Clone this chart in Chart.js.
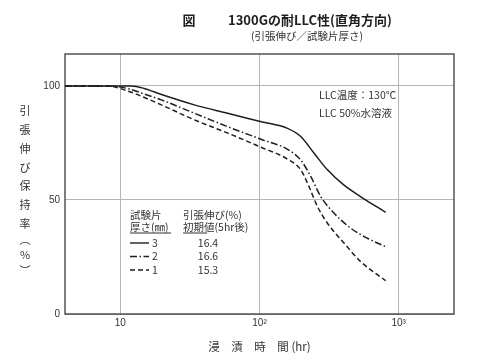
<!DOCTYPE html>
<html>
<head>
<meta charset="utf-8">
<script src="https://cdn.jsdelivr.net/npm/chart.js@4/dist/chart.umd.min.js"></script>
<style>
  html, body { margin: 0; padding: 0; background: #fff; }
</style>
</head>
<body>
<canvas id="chart" width="500" height="359"></canvas>
<script>
// axis ticks
const hourTicks = [10, 100, 1000];
const hourTickLabels = ["10", "10²", "10³"];
const retentionTicks = [0, 50, 100];

// specimen thickness 3 mm (solid)
const hours3 = [4, 12, 15, 20, 34, 59, 103, 159, 198, 246, 308, 403, 535, 807];
const retention3 = [100, 100, 98.8, 96.1, 91.7, 88.0, 84.3, 81.4, 77.8, 70.6, 63.2, 56.6, 51.4, 44.6];

// 2 mm (dash-dot)
const hours2 = [4, 8, 11.4, 14.9, 19.7, 34.1, 59.2, 102.6, 159, 198, 234, 276, 344, 453, 597, 807];
const retention2 = [100, 100, 98.8, 96.4, 93.9, 88.0, 82.1, 76.6, 72.2, 67.5, 60.2, 51.4, 44.2, 37.6, 33.2, 29.5];

// 1 mm (dashed)
const hours1 = [4, 8, 11.4, 14.9, 19.7, 34.1, 59.2, 102.6, 159, 198, 227, 261, 308, 406, 535, 807];
const retention1 = [100, 100, 97.7, 94.9, 91.7, 85.1, 79.3, 73.1, 67.9, 63.2, 55.8, 47.1, 39.8, 31.0, 22.9, 14.6];

// legend table
const thicknessLabels = ["3", "2", "1"];
const initialElongation = ["16.4", "16.6", "15.3"];

const JP = '"Noto Sans CJK JP", "Noto Sans", sans-serif';
const INK = "#1e1e1e";
const dashes = [[], [7, 2.5, 1.5, 2.5], [5, 3]];

function toPoints(xs, ys) {
  return xs.map((x, i) => ({ x: x, y: ys[i] }));
}

function lineSet(xs, ys, dash) {
  return {
    data: toPoints(xs, ys),
    borderColor: INK,
    borderWidth: 1.5,
    borderDash: dash,
    pointRadius: 0,
    fill: false,
    cubicInterpolationMode: "monotone",
  };
}

const decorations = {
  id: "decorations",
  beforeDatasetsDraw(chart) {
    const { ctx, chartArea: a } = chart;
    ctx.save();
    ctx.strokeStyle = "#3a3a3a";
    ctx.lineWidth = 1.3;
    ctx.strokeRect(a.left, a.top, a.right - a.left, a.bottom - a.top);
    ctx.restore();
  },
  afterDraw(chart) {
    const ctx = chart.ctx;
    ctx.save();
    ctx.fillStyle = INK;
    ctx.textBaseline = "middle";

    // title
    ctx.font = "bold 13px " + JP;
    ctx.textAlign = "center";
    ctx.fillText("図", 189, 20);
    ctx.textAlign = "left";
    ctx.fillText("1300Gの耐LLC性(直角方向)", 228, 20);
    ctx.font = "10.5px " + JP;
    ctx.textAlign = "center";
    ctx.fillStyle = "#333";
    ctx.fillText("(引張伸び／試験片厚さ)", 307, 36);

    // vertical y-axis title
    ctx.font = "11px " + JP;
    const chars = ["引", "張", "伸", "び", "保", "持", "率"];
    chars.forEach((c, i) => ctx.fillText(c, 25, 111 + i * 18.8));
    ctx.fillText("︵", 25, 240);
    ctx.fillText("%", 25, 255);
    ctx.fillText("︶", 25, 271);

    // test conditions
    ctx.textAlign = "left";
    ctx.font = "10.5px " + JP;
    ctx.fillText("LLC温度：130℃", 319, 95);
    ctx.fillText("LLC 50%水溶液", 319, 113);

    // legend table
    ctx.font = "10.5px " + JP;
    ctx.fillText("試験片", 130, 215);
    ctx.fillText("引張伸び(%)", 183, 215);
    ctx.fillText("厚さ(㎜)", 130, 227);
    ctx.fillText("初期値(5hr後)", 183, 227);
    ctx.strokeStyle = "#333";
    ctx.lineWidth = 1;
    ctx.beginPath();
    ctx.moveTo(130, 233); ctx.lineTo(171, 233);
    ctx.moveTo(183, 233); ctx.lineTo(207, 233);
    ctx.stroke();

    ctx.font = "10.5px " + JP;
    thicknessLabels.forEach((t, i) => {
      const y = 243 + i * 13.5;
      ctx.strokeStyle = INK;
      ctx.lineWidth = 1.4;
      ctx.setLineDash(dashes[i]);
      ctx.beginPath();
      ctx.moveTo(130, y); ctx.lineTo(149, y);
      ctx.stroke();
      ctx.setLineDash([]);
      ctx.textAlign = "left";
      ctx.fillText(t, 152, y);
      ctx.textAlign = "center";
      ctx.fillText(initialElongation[i], 208, y);
    });
    ctx.restore();
  },
};

new Chart(document.getElementById("chart").getContext("2d"), {
  type: "line",
  data: {
    datasets: [
      lineSet(hours3, retention3, dashes[0]),
      lineSet(hours2, retention2, dashes[1]),
      lineSet(hours1, retention1, dashes[2]),
    ],
  },
  options: {
    responsive: false,
    animation: false,
    devicePixelRatio: 1,
    layout: { padding: { left: 0, right: 46, top: 54, bottom: 0 } },
    plugins: {
      legend: { display: false },
      tooltip: { enabled: false },
      title: { display: false },
    },
    scales: {
      x: {
        type: "logarithmic",
        min: 4,
        max: 2500,
        afterBuildTicks: (scale) => {
          scale.ticks = hourTicks.map((v) => ({ value: v }));
        },
        afterFit: (scale) => {
          scale.height = 45;
        },
        ticks: {
          autoSkip: false,
          maxRotation: 0,
          padding: 3,
          color: "#333",
          font: { family: '"Liberation Sans Narrow", "Liberation Sans", sans-serif', size: 10 },
          callback: (value, index) => hourTickLabels[index],
        },
        grid: { color: "#b5b5b5", lineWidth: 1, drawTicks: false },
        border: { display: false },
        title: {
          display: true,
          text: "浸　漬　時　間 (hr)",
          color: "#333",
          font: { family: JP, size: 11.5 },
          padding: { top: 0, bottom: 5 },
        },
      },
      y: {
        type: "linear",
        min: 0,
        max: 114,
        afterBuildTicks: (scale) => {
          scale.ticks = retentionTicks.map((v) => ({ value: v }));
        },
        afterFit: (scale) => {
          scale.width = 65;
        },
        ticks: {
          padding: 5,
          color: "#333",
          font: { family: '"Liberation Sans Narrow", "Liberation Sans", sans-serif', size: 10 },
        },
        grid: { color: "#b5b5b5", lineWidth: 1, drawTicks: false },
        border: { display: false },
      },
    },
  },
  plugins: [decorations],
});
</script>
</body>
</html>
